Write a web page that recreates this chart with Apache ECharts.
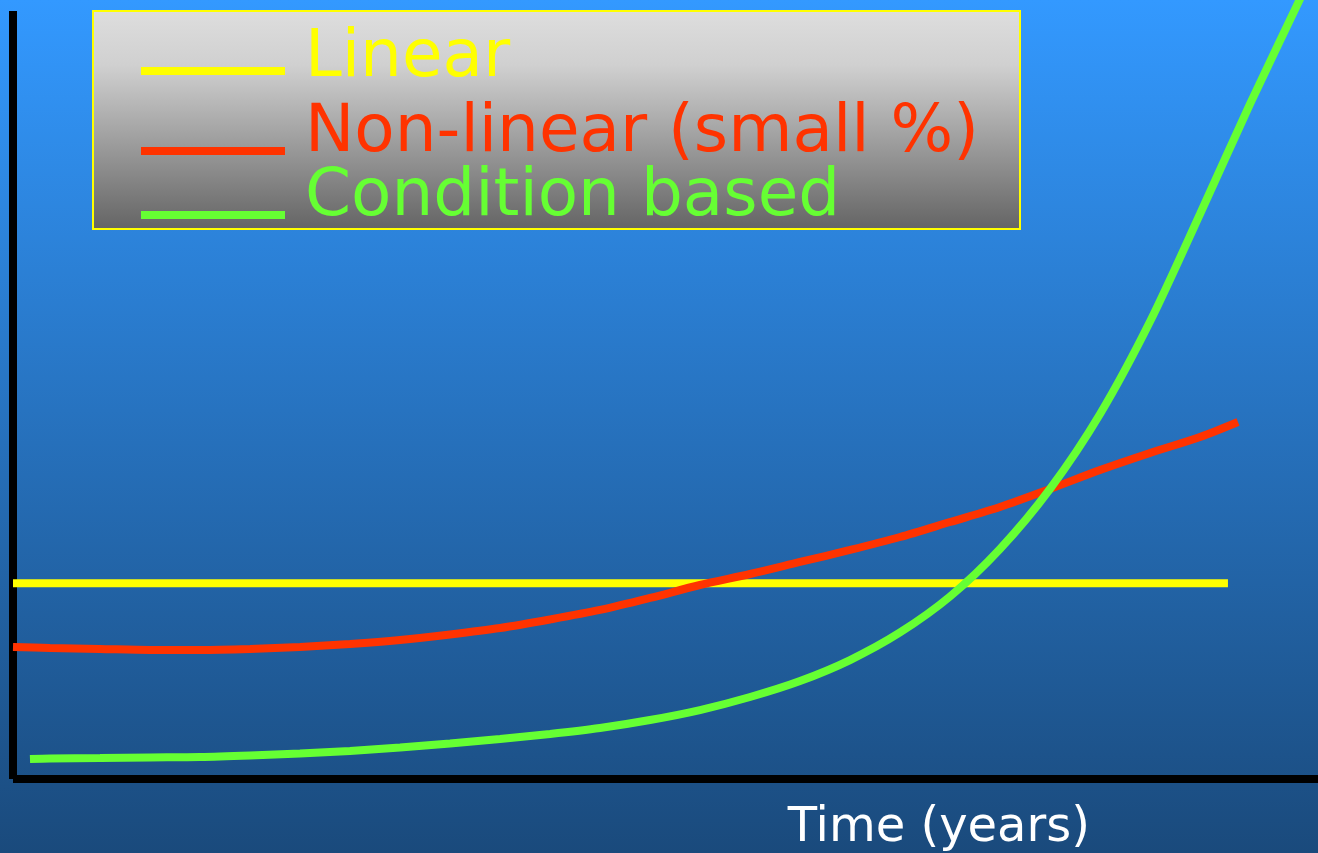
<!DOCTYPE html>
<html>
<head>
<meta charset="utf-8">
<title>Maintenance cost over time</title>
<script src="https://cdn.jsdelivr.net/npm/echarts@6/dist/echarts.min.js"></script>
<style>
  html, body { margin: 0; padding: 0; background: #1a4a7c; }
  #chart { width: 1318px; height: 853px; }
</style>
</head>
<body>
<div id="chart"></div>
<script>
// Series names shown in the legend
const seriesNames = ['Linear', 'Non-linear (small %)', 'Condition based'];
const axisTitle = 'Time (years)';

// Linear: constant level
const linearYears = [0, 93.1];
const linearLevel = [25.5, 25.5];

// Non-linear (small %): slow start, steady rise
const nonLinearYears = [0, 2.84, 6.67, 10.5, 14.33, 18.16, 21.99, 25.82, 29.66, 33.49, 37.32, 41.15, 44.98, 48.81, 52.64, 56.48, 60.31, 64.14, 67.97, 71.8, 75.63, 79.46, 83.3, 87.13, 90.96, 93.87];
const nonLinearLevel = [17.19, 17.06, 16.93, 16.8, 16.8, 16.93, 17.19, 17.58, 18.1, 18.82, 19.66, 20.77, 22.01, 23.57, 25.26, 26.69, 28.26, 29.82, 31.51, 33.46, 35.42, 37.76, 40.23, 42.45, 44.53, 46.48];

// Condition based: low for years, then steep growth
const conditionYears = [1.3, 2.84, 6.67, 10.5, 14.33, 18.16, 21.99, 25.82, 29.66, 33.49, 37.32, 41.15, 44.98, 48.81, 52.64, 56.48, 60.31, 64.14, 67.97, 71.8, 75.63, 79.46, 83.3, 87.13, 90.96, 94.79, 98.62, 100.15];
const conditionLevel = [2.6, 2.67, 2.73, 2.8, 2.86, 3.06, 3.32, 3.65, 4.1, 4.62, 5.21, 5.86, 6.64, 7.68, 8.98, 10.68, 12.76, 15.49, 19.08, 23.76, 29.95, 37.76, 47.53, 59.57, 73.57, 87.89, 101.56, 107.03];

const colors = ['#ffff00', '#ff3300', '#66ff33'];
const font = '"DejaVu Sans", Verdana, sans-serif';

function pairs(xs, ys) {
  return xs.map((x, i) => [x, ys[i]]);
}

const chart = echarts.init(document.getElementById('chart'), null, { renderer: 'canvas' });

const hiddenAxis = {
  type: 'value',
  min: 0,
  max: 100,
  axisLine: { show: true, lineStyle: { color: '#000000', width: 8, cap: 'butt' } },
  axisTick: { show: false },
  axisLabel: { show: false },
  splitLine: { show: false }
};

// One legend per entry: the label sits at the top of a taller line box,
// so it rides a little above its swatch.
function legendAt(index, top, boxHeight) {
  return {
    data: [seriesNames[index]],
    left: 141,
    top: top,
    padding: 0,
    icon: 'rect',
    itemWidth: 144,
    itemHeight: 8,
    selectedMode: false,
    formatter: name => '{t|' + name + '}{s| }',
    textStyle: {
      color: colors[index],
      fontFamily: font,
      fontSize: 66,
      padding: [0, 0, 0, 15],
      rich: {
        t: {
          color: colors[index],
          fontFamily: font,
          fontSize: 66,
          lineHeight: 66,
          verticalAlign: 'top'
        },
        s: {
          fontSize: 4,
          lineHeight: boxHeight,
          verticalAlign: 'top'
        }
      }
    }
  };
}

const option = {
  animation: false,
  backgroundColor: {
    type: 'linear', x: 0, y: 0, x2: 0, y2: 1,
    colorStops: [
      { offset: 0, color: '#3399ff' },
      { offset: 1, color: '#1a4a7c' }
    ]
  },
  graphic: [{
    type: 'rect',
    z: 1,
    shape: { x: 93, y: 11, width: 927, height: 218 },
    style: {
      fill: {
        type: 'linear', x: 0, y: 0, x2: 0, y2: 1,
        colorStops: [
          { offset: 0, color: '#dedede' },
          { offset: 0.25, color: '#d0d0d0' },
          { offset: 1, color: '#646464' }
        ]
      },
      stroke: '#ffff00',
      lineWidth: 2
    }
  }],
  legend: [
    legendAt(0, 25.5, 91),
    legendAt(1, 100.5, 101),
    legendAt(2, 164.5, 101)
  ],
  grid: { left: 13, right: 0, top: 11, bottom: 74, containLabel: false },
  xAxis: Object.assign({}, hiddenAxis, {
    name: axisTitle,
    nameLocation: 'end',
    nameGap: -228,
    nameTextStyle: {
      color: '#ffffff',
      fontFamily: font,
      fontSize: 48,
      lineHeight: 48,
      align: 'right',
      verticalAlign: 'top',
      padding: [26, 0, 0, 0]
    }
  }),
  yAxis: hiddenAxis,
  series: [
    {
      name: seriesNames[0],
      type: 'line',
      data: pairs(linearYears, linearLevel),
      color: colors[0],
      symbol: 'none',
      lineStyle: { color: colors[0], width: 8 },
      z: 3
    },
    {
      name: seriesNames[1],
      type: 'line',
      data: pairs(nonLinearYears, nonLinearLevel),
      color: colors[1],
      symbol: 'none',
      smooth: 0.3,
      lineStyle: { color: colors[1], width: 8 },
      z: 4
    },
    {
      name: seriesNames[2],
      type: 'line',
      data: pairs(conditionYears, conditionLevel),
      color: colors[2],
      symbol: 'none',
      smooth: 0.3,
      clip: false,
      lineStyle: { color: colors[2], width: 8 },
      z: 5
    }
  ]
};

chart.setOption(option);
</script>
</body>
</html>
